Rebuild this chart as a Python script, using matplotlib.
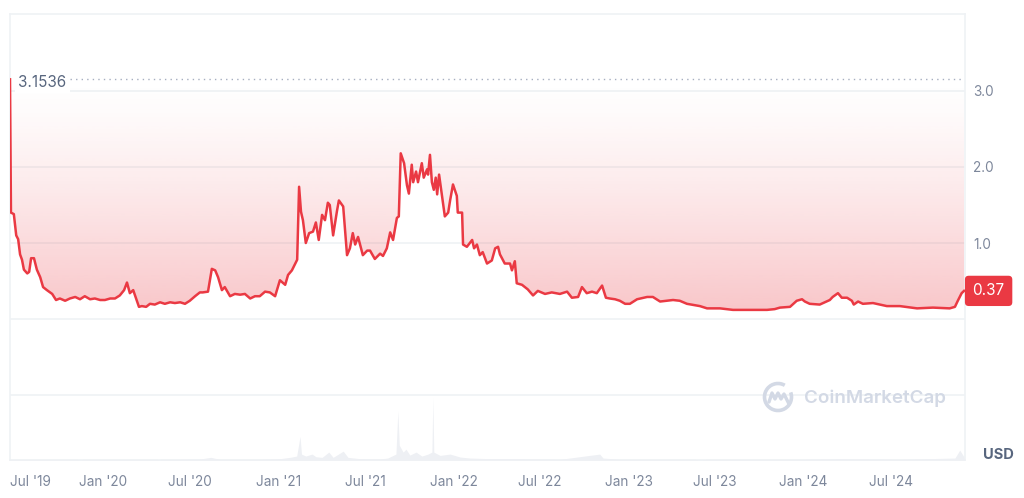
import numpy as np
import pandas as pd
import matplotlib
matplotlib.use("Agg")
import matplotlib.pyplot as plt
import matplotlib.dates as mdates
import matplotlib.transforms as mtransforms
from matplotlib.patches import Polygon, Arc

plt.rcParams['font.family'] = ['Inter', 'DejaVu Sans']

# price history (USD)
price_dates = [
    '2019-06-21', '2019-06-23', '2019-06-29', '2019-07-04', '2019-07-08', '2019-07-12',
    '2019-07-16', '2019-07-20', '2019-07-27', '2019-07-31', '2019-08-04', '2019-08-10',
    '2019-08-16', '2019-08-23', '2019-08-29', '2019-09-06', '2019-09-17', '2019-09-25',
    '2019-10-03', '2019-10-14', '2019-10-24', '2019-11-04', '2019-11-14', '2019-11-24',
    '2019-12-05', '2019-12-15', '2019-12-26', '2020-01-05', '2020-01-16', '2020-01-26',
    '2020-02-05', '2020-02-14', '2020-02-20', '2020-02-26', '2020-03-04', '2020-03-10',
    '2020-03-16', '2020-03-22', '2020-03-31', '2020-04-08', '2020-04-18', '2020-04-29',
    '2020-05-09', '2020-05-20', '2020-05-30', '2020-06-10', '2020-06-20', '2020-06-30',
    '2020-07-11', '2020-07-21', '2020-07-27', '2020-08-07', '2020-08-15', '2020-08-22',
    '2020-08-28', '2020-09-05', '2020-09-11', '2020-09-22', '2020-10-02', '2020-10-13',
    '2020-10-23', '2020-11-03', '2020-11-13', '2020-11-23', '2020-12-04', '2020-12-14',
    '2020-12-25', '2021-01-04', '2021-01-15', '2021-01-21', '2021-01-29', '2021-02-09',
    '2021-02-13', '2021-02-17', '2021-02-21', '2021-02-27', '2021-03-06', '2021-03-14',
    '2021-03-20', '2021-03-26', '2021-04-02', '2021-04-08', '2021-04-14', '2021-04-18',
    '2021-04-25', '2021-05-03', '2021-05-07', '2021-05-16', '2021-05-24', '2021-05-30',
    '2021-06-05', '2021-06-10', '2021-06-16', '2021-06-26', '2021-07-05', '2021-07-11',
    '2021-07-21', '2021-08-01', '2021-08-07', '2021-08-15', '2021-08-22', '2021-08-28',
    '2021-09-05', '2021-09-09', '2021-09-13', '2021-09-20', '2021-09-26', '2021-09-30',
    '2021-10-06', '2021-10-09', '2021-10-15', '2021-10-19', '2021-10-27', '2021-10-31',
    '2021-11-07', '2021-11-09', '2021-11-13', '2021-11-17', '2021-11-21', '2021-11-25',
    '2021-11-28', '2021-12-02', '2021-12-08', '2021-12-14', '2021-12-21', '2021-12-25',
    '2021-12-31', '2022-01-08', '2022-01-10', '2022-01-19', '2022-01-21', '2022-01-29',
    '2022-02-09', '2022-02-13', '2022-02-19', '2022-02-25', '2022-03-03', '2022-03-12',
    '2022-03-22', '2022-03-29', '2022-04-04', '2022-04-08', '2022-04-18', '2022-04-29',
    '2022-05-03', '2022-05-09', '2022-05-13', '2022-05-24', '2022-06-05', '2022-06-16',
    '2022-06-26', '2022-07-11', '2022-07-25', '2022-08-11', '2022-08-26', '2022-09-05',
    '2022-09-18', '2022-09-26', '2022-10-06', '2022-10-17', '2022-10-27', '2022-11-07',
    '2022-11-15', '2022-11-23', '2022-12-04', '2022-12-14', '2022-12-25', '2023-01-04',
    '2023-01-19', '2023-02-09', '2023-02-21', '2023-03-08', '2023-04-04', '2023-04-18',
    '2023-05-03', '2023-05-30', '2023-06-14', '2023-07-11', '2023-08-07', '2023-09-11',
    '2023-10-17', '2023-11-02', '2023-11-13', '2023-12-04', '2023-12-18', '2023-12-29',
    '2024-01-04', '2024-01-14', '2024-02-04', '2024-02-25', '2024-03-02', '2024-03-13',
    '2024-03-21', '2024-04-01', '2024-04-11', '2024-04-15', '2024-04-24', '2024-05-04',
    '2024-05-25', '2024-06-23', '2024-07-20', '2024-08-25', '2024-09-27', '2024-11-01',
    '2024-11-12', '2024-11-18', '2024-11-26', '2024-12-01',
]
price_values = [
    3.1536, 1.40, 1.38, 1.10, 1.05, 0.85,
    0.78, 0.65, 0.60, 0.62, 0.80, 0.80,
    0.65, 0.55, 0.42, 0.38, 0.33, 0.25,
    0.27, 0.24, 0.27, 0.29, 0.26, 0.30,
    0.26, 0.27, 0.25, 0.25, 0.27, 0.27,
    0.31, 0.38, 0.48, 0.34, 0.38, 0.27,
    0.16, 0.17, 0.16, 0.20, 0.19, 0.22,
    0.20, 0.22, 0.21, 0.22, 0.20, 0.24,
    0.30, 0.35, 0.35, 0.36, 0.66, 0.64,
    0.55, 0.38, 0.42, 0.30, 0.33, 0.32,
    0.33, 0.27, 0.30, 0.30, 0.36, 0.35,
    0.30, 0.51, 0.45, 0.58, 0.64, 0.78,
    1.74, 1.41, 1.30, 1.00, 1.13, 1.15,
    1.27, 1.04, 1.37, 1.30, 1.53, 1.50,
    1.10, 1.42, 1.56, 1.48, 0.84, 0.93,
    1.13, 0.98, 1.08, 0.84, 0.90, 0.90,
    0.79, 0.86, 0.83, 0.93, 1.14, 1.04,
    1.33, 1.35, 2.18, 2.05, 1.76, 1.65,
    2.03, 1.80, 1.94, 1.80, 2.05, 1.86,
    1.97, 1.90, 2.16, 1.80, 1.70, 1.86,
    1.64, 1.90, 1.62, 1.35, 1.40, 1.56,
    1.77, 1.62, 1.40, 1.40, 0.98, 0.95,
    1.04, 0.93, 0.98, 0.84, 0.88, 0.73,
    0.77, 0.93, 0.95, 0.85, 0.73, 0.73,
    0.64, 0.76, 0.47, 0.45, 0.39, 0.31,
    0.37, 0.33, 0.35, 0.33, 0.36, 0.28,
    0.29, 0.42, 0.34, 0.36, 0.34, 0.44,
    0.28, 0.27, 0.26, 0.24, 0.20, 0.20,
    0.26, 0.29, 0.29, 0.23, 0.25, 0.24,
    0.20, 0.17, 0.14, 0.14, 0.12, 0.12,
    0.12, 0.13, 0.15, 0.16, 0.24, 0.26,
    0.23, 0.20, 0.19, 0.25, 0.29, 0.34,
    0.28, 0.28, 0.24, 0.19, 0.23, 0.20,
    0.21, 0.17, 0.17, 0.14, 0.15, 0.14,
    0.16, 0.24, 0.34, 0.37,
]

# trading volume (million USD)
volume_dates = [
    '2019-06-21', '2019-08-23', '2019-11-14', '2020-02-05', '2020-04-29', '2020-07-21',
    '2020-08-13', '2020-09-01', '2020-11-23', '2021-01-04', '2021-01-25', '2021-02-08',
    '2021-02-15', '2021-02-18', '2021-02-27', '2021-03-12', '2021-03-20', '2021-04-02',
    '2021-04-16', '2021-04-25', '2021-05-16', '2021-05-26', '2021-06-20', '2021-08-01',
    '2021-08-17', '2021-09-03', '2021-09-07', '2021-09-10', '2021-09-18', '2021-09-24',
    '2021-10-02', '2021-10-15', '2021-10-27', '2021-11-09', '2021-11-17', '2021-11-19',
    '2021-11-21', '2021-12-04', '2021-12-25', '2022-01-15', '2022-02-04', '2022-03-18',
    '2022-05-20', '2022-08-11', '2022-11-02', '2022-11-09', '2022-12-14', '2023-05-30',
    '2023-12-25', '2024-03-17', '2024-07-20', '2024-11-12', '2024-11-22', '2024-11-29',
    '2024-12-01',
]
volume_values = [
    2, 2, 1.5, 2, 1.5, 3,
    8, 2, 2, 4, 8, 12,
    72, 18, 12, 18, 10, 8,
    24, 8, 27, 8, 4, 3,
    6, 18, 150, 45, 24, 33,
    15, 24, 12, 18, 24, 190,
    24, 14, 18, 9, 6, 4,
    4, 2, 18, 6, 2, 1.5,
    2, 4, 2, 6, 30, 14,
    8,
]

current_price = 0.37
price_ticks = [1.0, 2.0, 3.0]
grid_levels = [-1.0, 0.0, 1.0, 2.0, 3.0]
date_ticks = ['2020-01-01', '2020-07-01', '2021-01-01', '2021-07-01', '2022-01-01',
              '2022-07-01', '2023-01-01', '2023-07-01', '2024-01-01', '2024-07-01']
date_labels = ["Jan '20", "Jul '20", "Jan '21", "Jul '21", "Jan '22",
               "Jul '22", "Jan '23", "Jul '23", "Jan '24", "Jul '24"]

RED = '#ea3943'
GRID = '#eff2f5'
TXT = '#7d879b'

p_dates = pd.to_datetime(price_dates)
p_vals = np.array(price_values)
v_dates = pd.to_datetime(volume_dates)
v_vals = np.array(volume_values)
top_price = p_vals.max()

x_start = pd.Timestamp('2019-06-21')
x_end = pd.Timestamp('2024-12-03')

fig = plt.figure(figsize=(10.24, 4.98), dpi=100)
ax = fig.add_axes([10 / 1024, 38 / 498, 955 / 1024, 446 / 498])
ax.set_facecolor('white')

# volume pane sits at the bottom of the same frame
vax = ax.twinx()
vax.fill_between(v_dates, 0, v_vals, color='#eef0f4', lw=0, zorder=1)
vax.set_ylim(0, v_vals.max() / 0.14)
vax.set_yticks([])
for s in vax.spines.values():
    s.set_visible(False)

for lvl in grid_levels:
    ax.axhline(lvl, color=GRID, lw=1.2, zorder=0)

# gradient between the price line and the all-time high
xnum = mdates.date2num(p_dates)
x0, x1 = mdates.date2num(x_start), mdates.date2num(x_end)
alpha = 0.30 * (1 - np.linspace(0, 1, 256)) ** 1.3
rgba = np.zeros((256, 1, 4))
rgba[..., 0] = 234 / 255
rgba[..., 1] = 57 / 255
rgba[..., 2] = 67 / 255
rgba[:, 0, 3] = alpha
im = ax.imshow(rgba, extent=[x0, x1, 0, top_price], origin='lower',
               aspect='auto', zorder=1, interpolation='bilinear')
verts = list(zip(xnum, p_vals)) + [(xnum[-1], top_price), (xnum[0], top_price)]
clip = Polygon(verts, closed=True, facecolor='none', edgecolor='none',
               transform=ax.transData)
ax.add_patch(clip)
im.set_clip_path(clip)

ax.plot(p_dates, p_vals, color=RED, lw=1.8, zorder=3, solid_joinstyle='round')

# all-time high marker line and label
ax.axhline(top_price, xmin=0.063, xmax=0.998, color='#a6aec0', lw=1.0,
           ls=(0, (1, 3)), zorder=2)
ax.annotate(f'{top_price:.4f}', xy=(0, top_price),
            xycoords=mtransforms.blended_transform_factory(ax.transAxes, ax.transData),
            xytext=(6, -2), textcoords='offset points', ha='left', va='center',
            fontsize=11, color='#58667e',
            bbox=dict(boxstyle='square,pad=0.2', fc='white', ec='none'))

ax.set_xlim(x_start, x_end)
ax.set_ylim(-1.855, 4.013)

ax.set_xticks([x_start] + list(pd.to_datetime(date_ticks)))
ax.set_xticklabels(["Jul '19"] + date_labels)
ax.get_xticklabels()[0].set_ha('left')
ax.tick_params(axis='x', length=0, pad=11, labelsize=9.8, labelcolor=TXT)

ax.yaxis.tick_right()
ax.set_yticks(price_ticks)
ax.set_yticklabels([f'{t:.1f}' for t in price_ticks])
ax.tick_params(axis='y', length=0, pad=6, labelsize=9.8, labelcolor=TXT)

for s in ax.spines.values():
    s.set_color(GRID)
    s.set_linewidth(1.2)

# current price tag
ax.annotate(f'{current_price:.2f}', xy=(1, current_price),
            xycoords=mtransforms.blended_transform_factory(ax.transAxes, ax.transData),
            xytext=(17, 0), textcoords='offset points', ha='center', va='center',
            fontsize=11, color='white', zorder=5, annotation_clip=False,
            bbox=dict(boxstyle='round,pad=0.5,rounding_size=0.25', fc=RED, ec='none'))

fig.text(983 / 1024, 1 - 455 / 498, 'USD', fontsize=10.5, fontweight='bold',
         color='#58667e', ha='left', va='center')

# watermark
wm = '#d3d9e5'
fig.text(804 / 1024, 1 - 398 / 498, 'CoinMarketCap', fontsize=13.5,
         fontweight='semibold', color=wm, ha='left', va='center')
over = fig.add_axes([0, 0, 1, 1])
over.set_xlim(0, 1024)
over.set_ylim(498, 0)
over.axis('off')
over.add_patch(Arc((778, 397), 27, 27, theta1=-20, theta2=300, color=wm, lw=2.6))
over.plot([769, 772, 775, 778, 781, 784, 789], [402, 393, 399, 393, 399, 394, 404],
          color=wm, lw=2.4, solid_joinstyle='round', solid_capstyle='round')

fig.savefig('out.png', dpi=100, facecolor='white')
